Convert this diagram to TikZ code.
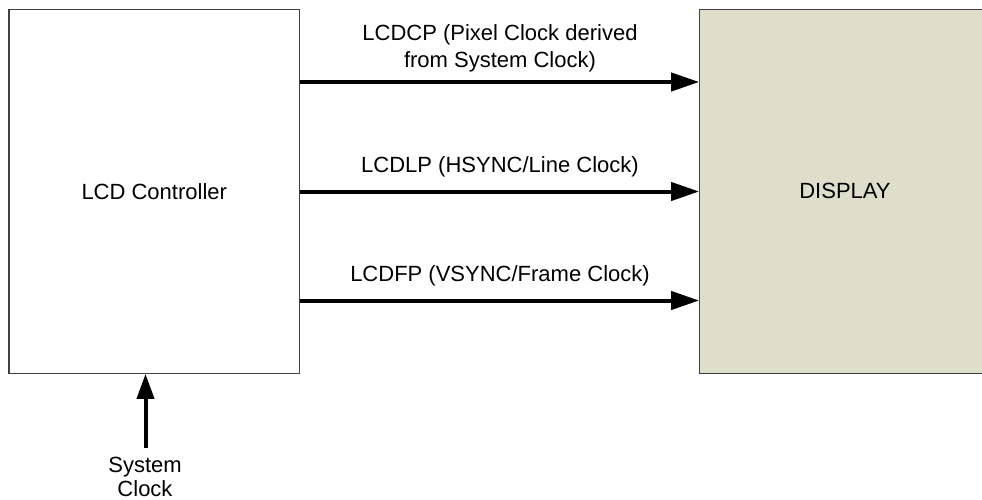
\documentclass[tikz,border=0pt]{standalone}
\usepackage{fontspec}
\setmainfont{Liberation Sans}
\usetikzlibrary{arrows.meta}
\definecolor{dispfill}{RGB}{221,223,203}
\definecolor{boxline}{RGB}{64,64,64}
\tikzset{
  block/.style={draw=boxline, line width=1.2pt, rectangle, inner sep=0pt,
    minimum width=290.5pt, minimum height=364pt},
  sig/.style={line width=4pt, -{Triangle[length=28pt,width=18pt]}},
  clk/.style={line width=4pt, -{Triangle[length=25pt,width=17pt]}},
  lbl/.style={inner sep=0pt, align=center}
}
\begin{document}
\begin{tikzpicture}[x=1pt, y=-1pt, font=\fontsize{22}{26.6}\selectfont]
\useasboundingbox (0,0) rectangle (982,500);
\clip (0,0) rectangle (982,500);
\node[block, fill=white] (lcd) at (154.25,191.3) {LCD Controller};
\node[block, fill=dispfill] (disp) at (845,191.3) {DISPLAY};
\coordinate (y1) at (0,82);
\coordinate (y2) at (0,191.5);
\coordinate (y3) at (0,300.5);
\draw[sig] (lcd.east |- y1) -- (disp.west |- y1);
\draw[sig] (lcd.east |- y2) -- (disp.west |- y2);
\draw[sig] (lcd.east |- y3) -- (disp.west |- y3);
\node[lbl, anchor=north] (l1) at (500,22) {\strut LCDCP (Pixel Clock derived\\\strut from System Clock)};
\node[lbl, anchor=base] (l2) at (500,172) {LCDLP (HSYNC/Line Clock)};
\node[lbl, anchor=base] (l3) at (500,281.7) {LCDFP (VSYNC/Frame Clock)};
\node[lbl, anchor=north, font=\fontsize{22}{24.5}\selectfont] (sc) at (145,455) {\strut System\\\strut Clock};
\coordinate (clkstart) at (145.5,447.7);
\draw[clk] (clkstart) -- (lcd.south -| clkstart);
\end{tikzpicture}
\end{document}
